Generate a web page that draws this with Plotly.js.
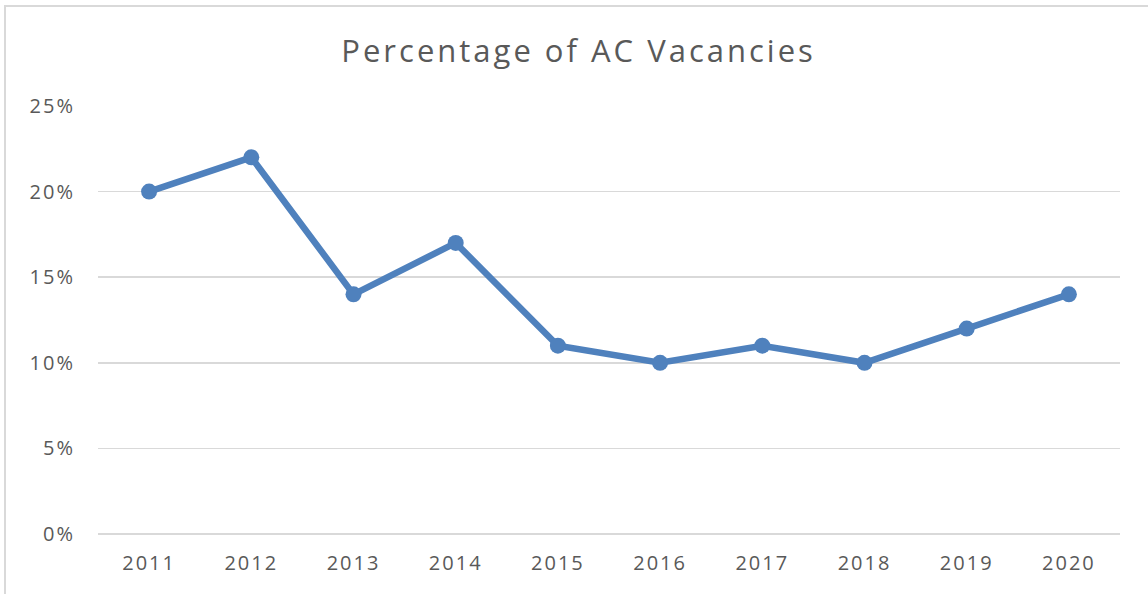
<!DOCTYPE html>
<html>
<head>
<meta charset="utf-8">
<script src="https://cdn.plot.ly/plotly-3.0.1.min.js"></script>
<style>
html,body{margin:0;padding:0;background:#fff;overflow:hidden;}
#wrap{position:relative;width:1148px;height:594px;}
#chart{position:absolute;left:0;top:0;width:1148px;height:594px;}
#frame{position:absolute;left:4px;top:5px;width:1200px;height:700px;border:2px solid #d9d9d9;pointer-events:none;}
#chart .xtick text, #chart .ytick text{letter-spacing:2px;}
#chart .gtitle{letter-spacing:3px;}
</style>
</head>
<body>
<div id="wrap">
<div id="chart"></div>
<div id="frame"></div>
</div>
<script>
const years = ["2011","2012","2013","2014","2015","2016","2017","2018","2019","2020"];
const vacancies = [0.20, 0.22, 0.14, 0.17, 0.11, 0.10, 0.11, 0.10, 0.12, 0.14];
const chartTitle = "Percentage of AC Vacancies";

const trace = {
  x: years,
  y: vacancies,
  type: 'scatter',
  mode: 'lines+markers',
  line: {color: '#4f81bd', width: 6.5},
  marker: {color: '#4f81bd', size: 16},
  hoverinfo: 'x+y'
};

const font = {family: '"Open Sans", "Noto Sans", sans-serif', color: '#595959'};

const layout = {
  width: 1148,
  height: 594,
  paper_bgcolor: 'rgba(0,0,0,0)',
  plot_bgcolor: 'rgba(0,0,0,0)',
  margin: {l: 98, r: 28, t: 106, b: 60},
  showlegend: false,
  font: font,
  title: {
    text: chartTitle,
    font: {family: font.family, color: '#595959', size: 31},
    x: 0.504, xref: 'container', xanchor: 'center',
    y: 1 - 51/594, yref: 'container', yanchor: 'middle'
  },
  xaxis: {
    type: 'category',
    range: [-0.5, 9.5],
    showgrid: false,
    showline: false,
    zeroline: false,
    ticks: '',
    ticklabelstandoff: 15,
    tickfont: {family: font.family, color: '#595959', size: 20}
  },
  yaxis: {
    range: [0, 0.25],
    dtick: 0.05,
    tickformat: '.0%',
    showgrid: true,
    gridcolor: '#d9d9d9',
    gridwidth: 1.5,
    zeroline: true,
    zerolinecolor: '#d9d9d9',
    zerolinewidth: 1.5,
    showline: false,
    ticks: '',
    ticklabelstandoff: 22,
    tickfont: {family: font.family, color: '#595959', size: 20}
  }
};

Plotly.newPlot('chart', [trace], layout, {displayModeBar: false, staticPlot: true});
</script>
</body>
</html>
